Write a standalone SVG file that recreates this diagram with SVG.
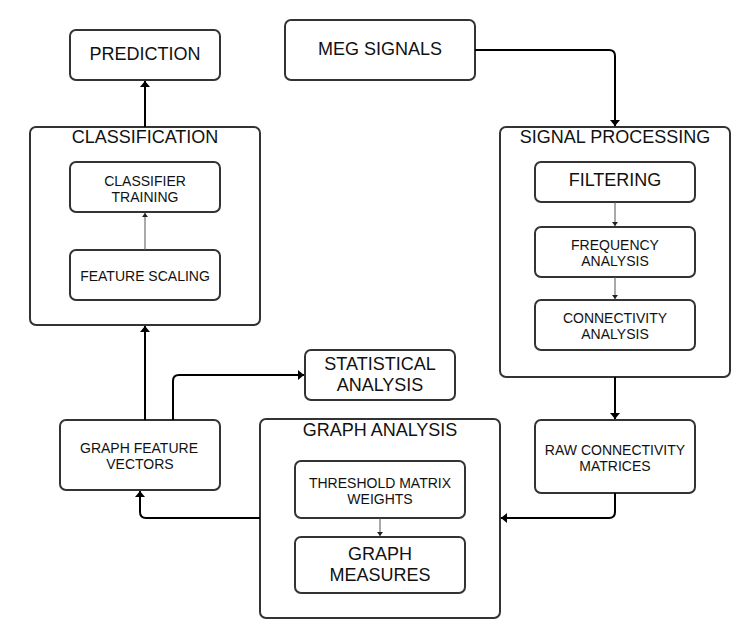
<svg xmlns="http://www.w3.org/2000/svg" width="750" height="638" viewBox="0 0 750 638">
<defs>
<style>
.box{fill:#fff;stroke:#333;stroke-width:2}
.t{font-family:"Liberation Sans",Arial,sans-serif;fill:#111;text-anchor:middle}
.l{font-size:18px}
.s{font-size:14px}
.c{fill:none;stroke:#000;stroke-width:2}
.ci{fill:none;stroke:#555;stroke-width:1}
</style>
<marker id="ah" viewBox="-1 -6 8 12" refX="6" refY="0" markerWidth="8" markerHeight="12" markerUnits="userSpaceOnUse" orient="auto">
<path d="M0,-5 L6,0 L0,5 z" fill="#000"/>
</marker>
<marker id="ahs" viewBox="-1 -4 6 8" refX="4" refY="0" markerWidth="6" markerHeight="8" markerUnits="userSpaceOnUse" orient="auto">
<path d="M0,-3 L4,0 L0,3 z" fill="#222"/>
</marker>
</defs>
<rect width="750" height="638" fill="#fff"/>

<g id="prediction"><rect class="box" x="70" y="30" width="150" height="50" rx="6"/><text class="t l" x="145" y="60">PREDICTION</text></g>
<g id="meg-signals"><rect class="box" x="285" y="20" width="190" height="60" rx="6"/><text class="t l" x="380" y="55">MEG SIGNALS</text></g>

<g id="classification"><rect class="box" x="30" y="127" width="230" height="198" rx="6"/><text class="t l" x="145" y="143">CLASSIFICATION</text></g>
<g id="classifier-training"><rect class="box" x="70" y="162" width="150" height="50" rx="6"/><text class="t s" x="145" y="186">CLASSIFIER</text><text class="t s" x="145" y="201.5">TRAINING</text></g>
<g id="feature-scaling"><rect class="box" x="70" y="250" width="150" height="50" rx="6"/><text class="t s" x="145" y="281">FEATURE SCALING</text></g>

<g id="signal-processing"><rect class="box" x="500" y="127" width="230" height="250" rx="6"/><text class="t l" x="615" y="143">SIGNAL PROCESSING</text></g>
<g id="filtering"><rect class="box" x="535" y="162" width="160" height="40" rx="6"/><text class="t l" x="615" y="186">FILTERING</text></g>
<g id="frequency-analysis"><rect class="box" x="535" y="227" width="160" height="50" rx="6"/><text class="t s" x="615" y="250">FREQUENCY</text><text class="t s" x="615" y="265.5">ANALYSIS</text></g>
<g id="connectivity-analysis"><rect class="box" x="535" y="300" width="160" height="50" rx="6"/><text class="t s" x="615" y="323">CONNECTIVITY</text><text class="t s" x="615" y="338.5">ANALYSIS</text></g>

<g id="statistical-analysis"><rect class="box" x="305" y="350" width="150" height="50" rx="6"/><text class="t l" x="380" y="370">STATISTICAL</text><text class="t l" x="380" y="391">ANALYSIS</text></g>

<g id="graph-feature-vectors"><rect class="box" x="60" y="420" width="160" height="70" rx="6"/><text class="t s" x="139" y="453">GRAPH FEATURE</text><text class="t s" x="140" y="469">VECTORS</text></g>

<g id="graph-analysis"><rect class="box" x="260" y="419" width="240" height="199" rx="6"/><text class="t l" x="380" y="436">GRAPH ANALYSIS</text></g>
<g id="threshold-matrix-weights"><rect class="box" x="295" y="461" width="170" height="57" rx="6"/><text class="t s" x="380" y="488">THRESHOLD MATRIX</text><text class="t s" x="380" y="504">WEIGHTS</text></g>
<g id="graph-measures"><rect class="box" x="295" y="537" width="170" height="56" rx="6"/><text class="t l" x="380" y="560">GRAPH</text><text class="t l" x="380" y="581">MEASURES</text></g>

<g id="raw-connectivity-matrices"><rect class="box" x="535" y="420" width="160" height="73" rx="6"/><text class="t s" x="615" y="455">RAW CONNECTIVITY</text><text class="t s" x="615" y="470.5">MATRICES</text></g>

<g id="connectors">
<path class="c" d="M475,50 H609 Q615,50 615,56 V126" marker-end="url(#ah)"/>
<path class="c" d="M615,377 V419" marker-end="url(#ah)"/>
<path class="c" d="M615,493 V512 Q615,518 609,518 H501" marker-end="url(#ah)"/>
<path class="c" d="M260,518 H146 Q140,518 140,512 V491" marker-end="url(#ah)"/>
<path class="c" d="M145,420 V326" marker-end="url(#ah)"/>
<path class="c" d="M145,127 V81" marker-end="url(#ah)"/>
<path class="c" d="M173,420 V381 Q173,375 179,375 H304" marker-end="url(#ah)"/>
<path class="ci" d="M615,202 V226" marker-end="url(#ahs)"/>
<path class="ci" d="M615,277 V299" marker-end="url(#ahs)"/>
<path class="ci" d="M145,250 V213" marker-end="url(#ahs)"/>
<path class="ci" d="M380,518 V536" marker-end="url(#ahs)"/>
</g>
</svg>
